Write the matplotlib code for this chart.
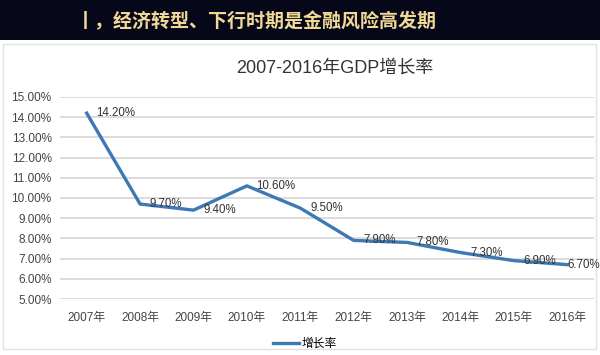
import matplotlib.pyplot as plt
from matplotlib.patches import Rectangle

plt.rcParams['font.family'] = ['Liberation Sans', 'Noto Sans CJK SC', 'DejaVu Sans']

years = ["2007年", "2008年", "2009年", "2010年", "2011年",
         "2012年", "2013年", "2014年", "2015年", "2016年"]
growth = [14.2, 9.7, 9.4, 10.6, 9.5, 7.9, 7.8, 7.3, 6.9, 6.7]
yticks = [5, 6, 7, 8, 9, 10, 11, 12, 13, 14, 15]

fig = plt.figure(figsize=(6, 3.55), dpi=100)
fig.patch.set_facecolor("white")

# dark header band
fig.patches.append(Rectangle((0, 1 - 40 / 355), 1, 40 / 355, transform=fig.transFigure,
                             facecolor="#07071a", edgecolor="none", zorder=-2))
fig.text(76 / 600, 1 - 21 / 355, "丨，经济转型、下行时期是金融风险高发期",
         color="#f0d996", fontsize=13.7, fontweight="bold", ha="left", va="center",
         family=["Noto Sans CJK SC", "DejaVu Sans"])

# light panel border
fig.patches.append(Rectangle((3 / 600, 1 - 349 / 355), 593 / 600, 305 / 355,
                             transform=fig.transFigure, facecolor="white",
                             edgecolor="#e2e2e2", linewidth=1, zorder=-2))

ax = fig.add_axes([60 / 600, 1 - 299 / 355, 534 / 600, 202 / 355])
ax.set_zorder(2)
ax.set_facecolor("none")
x = list(range(len(years)))
line, = ax.plot(x, growth, color="#3d7ab3", linewidth=2.4, label="增长率", zorder=3)
for i, (xi, v) in enumerate(zip(x, growth)):
    dx = 7 if i < len(years) - 1 else 0
    ax.annotate(f"{v:.2f}%", (xi, v), xytext=(dx, 0), textcoords="offset points",
                ha="left", va="center", fontsize=8.3, color="#333333", zorder=4,
                annotation_clip=False)

ax.set_xlim(-0.5, len(years) - 0.5)
ax.set_ylim(5, 15)
ax.set_yticks(yticks)
ax.set_yticklabels([f"{t:.2f}%" for t in yticks])
ax.set_xticks(x)
ax.set_xticklabels(years)
ax.grid(axis="y", color="#d9d9d9", linewidth=1.3)
ax.set_axisbelow(True)
for s in ax.spines.values():
    s.set_visible(False)
ax.tick_params(length=0, labelsize=8.5, labelcolor="#444444")
ax.tick_params(axis="x", pad=9)
ax.tick_params(axis="y", pad=6)

fig.text(335 / 600, 1 - 68 / 355, "2007-2016年GDP增长率", ha="center", va="center",
         fontsize=13, color="#333333")

fig.legend(handles=[line], loc="center", bbox_to_anchor=(305 / 600, 1 - 344 / 355),
           frameon=False, fontsize=8.5, handlelength=2.2, handletextpad=0.2)

fig.savefig("out.png", dpi=100)
